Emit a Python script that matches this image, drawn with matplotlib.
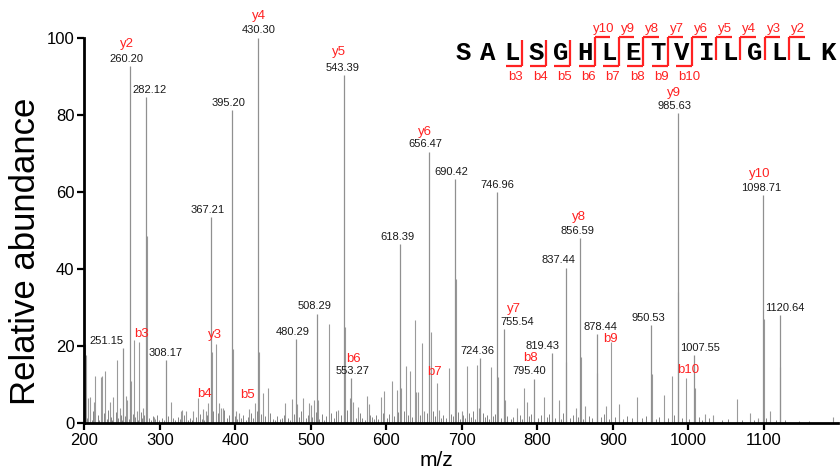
import matplotlib
matplotlib.use("Agg")
import matplotlib.pyplot as plt

plt.rcParams['font.family'] = ['Liberation Sans', 'DejaVu Sans']

# peaks with an m/z value printed above them
labeled_mz = [251.15, 260.20, 282.12, 308.17, 367.21, 395.20, 430.30, 480.29, 508.29,
              543.39, 553.27, 618.39, 656.47, 690.42, 724.36, 746.96, 755.54, 795.40,
              819.43, 837.44, 856.59, 878.44, 950.53, 985.63, 1007.55, 1098.71, 1120.64]
labeled_int = [19.4, 92.6, 84.6, 16.4, 53.5, 81.2, 100.0, 21.8, 28.4,
               90.2, 11.6, 46.5, 70.4, 63.3, 16.8, 59.9, 24.3, 11.5,
               18.2, 40.3, 47.9, 23.1, 25.3, 80.3, 17.7, 59.1, 27.9]

# other visible peaks (no m/z text)
other_mz = [200.6, 201.6, 205.0, 207.5, 213.0, 214.6, 221.7, 224.0, 227.4, 233.5, 238.5,
            243.0, 247.3, 254.8, 257.0, 262.0, 265.2, 269.4, 272.8, 278.0, 283.6, 292.7,
            314.4, 327.7, 329.8, 335.0, 344.4, 350.2, 357.0, 360.8, 364.3, 368.6, 374.0,
            378.8, 381.4, 383.0, 396.6, 400.6, 404.6, 418.6, 425.9, 431.4, 436.3, 443.7,
            466.0, 475.5, 482.0, 490.0, 498.0, 500.5, 504.6, 509.6, 524.5, 536.5, 544.8,
            551.2, 556.0, 562.0, 574.0, 576.7, 592.6, 596.5, 607.0, 613.8, 620.0, 625.7,
            631.4, 637.4, 638.6, 642.4, 647.5, 650.0, 658.6, 666.8, 670.0, 682.4, 691.6,
            700.0, 706.5, 719.8, 722.0, 738.3, 748.2, 757.0, 772.7, 782.8, 786.0, 809.0,
            828.0, 838.4, 851.0, 857.6, 863.6, 879.2, 890.6, 897.2, 908.6, 932.5, 951.6,
            967.8, 978.0, 986.6, 996.5, 1008.6, 1022.0, 1033.0, 1064.0, 1081.0, 1092.7,
            1099.8, 1108.0, 1121.6, 1192.0]
other_int = [20.4, 17.6, 6.6, 6.8, 5.4, 12.2, 12.0, 12.2, 13.6, 5.5, 6.8,
             16.4, 4.0, 7.0, 5.9, 11.0, 21.5, 3.0, 21.1, 4.0, 48.6, 1.5,
             5.4, 3.0, 3.5, 3.2, 3.0, 6.5, 3.6, 3.0, 5.3, 18.5, 20.6,
             5.2, 4.0, 4.0, 19.2, 3.2, 2.6, 3.6, 5.2, 18.4, 7.7, 9.1,
             5.3, 6.1, 5.0, 6.6, 5.1, 4.7, 5.9, 6.0, 25.7, 3.5, 25.0,
             6.4, 5.5, 4.2, 7.1, 5.0, 6.8, 8.2, 10.8, 8.5, 9.0, 14.8,
             13.5, 26.6, 8.0, 8.0, 20.7, 3.0, 23.7, 10.3, 3.5, 14.3, 37.4,
             3.2, 14.7, 15.1, 4.0, 14.6, 12.0, 6.0, 4.0, 9.0, 5.5, 6.8,
             5.9, 15.7, 4.0, 17.2, 4.5, 13.0, 4.5, 21.1, 5.0, 6.8, 12.8,
             7.3, 12.2, 34.0, 11.8, 9.0, 2.3, 2.0, 6.2, 2.5, 1.3,
             27.0, 3.0, 14.6, 1.5]

# low-level background peaks
noise_peaks = [
    (203.1, 1.2), (204.6, 2.3), (209.8, 0.8), (211.3, 3.1), (212.5, 1.4), (217.9, 2.0),
    (219.4, 0.9), (223.1, 1.7), (225.6, 2.6), (230.2, 1.1), (231.8, 3.4), (235.4, 1.5),
    (236.9, 0.7), (241.5, 2.8), (245.2, 1.3), (248.7, 2.1), (250.1, 0.9), (253.6, 1.8),
    (256.2, 3.2), (258.9, 1.0), (264.1, 2.4), (267.3, 1.6), (270.5, 0.8), (274.6, 2.9),
    (276.8, 1.2), (279.2, 2.2), (286.1, 1.4), (288.4, 0.9), (290.9, 1.7), (294.2, 1.1),
    (296.7, 2.0), (299.5, 0.8), (302.3, 1.3), (305.1, 0.7), (311.2, 1.9), (317.6, 1.2),
    (320.4, 0.8), (323.8, 1.5), (326.3, 1.0), (332.5, 2.1), (336.9, 0.9), (339.4, 1.4),
    (342.1, 0.7), (347.6, 1.6), (352.8, 2.4), (355.3, 1.1), (358.4, 0.8), (362.2, 2.2),
    (369.9, 3.0), (376.4, 2.7), (385.2, 3.3), (388.7, 1.2), (391.3, 2.0), (398.9, 1.7),
    (402.7, 1.0), (407.5, 1.4), (410.2, 2.1), (413.8, 0.9), (416.4, 1.5), (421.3, 2.6),
    (423.7, 1.2), (428.1, 3.0), (434.2, 2.3), (439.9, 1.8), (446.5, 2.6), (449.3, 1.1),
    (452.1, 0.8), (455.8, 1.9), (458.6, 1.0), (461.4, 1.4), (464.2, 2.2), (469.5, 1.3),
    (472.3, 0.9), (478.1, 2.4), (484.6, 1.5), (487.2, 3.1), (493.5, 1.2), (495.9, 2.0),
    (501.3, 1.6), (506.7, 2.8), (511.4, 1.1), (514.2, 2.3), (517.8, 0.9), (520.6, 1.8),
    (527.3, 2.5), (530.1, 1.3), (533.4, 3.0), (539.8, 2.1), (548.2, 3.3), (556.4, 2.0),
    (559.7, 1.2), (565.3, 2.6), (568.1, 1.4), (571.4, 0.9), (577.9, 2.2), (580.6, 1.5),
    (583.2, 1.0), (586.8, 2.0), (589.5, 1.1), (595.1, 2.7), (600.3, 1.3), (603.8, 2.4),
    (610.2, 1.7), (615.7, 2.9), (623.1, 3.1), (628.4, 2.2), (634.3, 1.6), (639.8, 3.4),
    (645.1, 2.0), (650.2, 1.3), (653.6, 2.5), (661.3, 3.0), (664.2, 1.8), (669.7, 2.6),
    (672.8, 1.2), (675.4, 2.1), (678.9, 1.4), (685.3, 2.3), (688.1, 1.7), (694.7, 2.8),
    (697.2, 1.0), (701.8, 2.0), (703.9, 1.3), (709.6, 2.5), (712.4, 1.6), (715.3, 3.2),
    (717.1, 1.1), (727.8, 2.7), (730.5, 1.5), (733.2, 2.2), (735.6, 1.0), (741.4, 1.8),
    (744.2, 2.4), (751.3, 1.2), (760.2, 1.9), (764.8, 1.1), (768.3, 1.6), (776.5, 2.2),
    (779.1, 1.0), (789.4, 1.7), (792.1, 2.4), (800.6, 1.3), (804.3, 2.0), (812.7, 1.5),
    (815.2, 2.3), (823.6, 1.4), (831.4, 1.1), (834.2, 2.6), (842.5, 1.2), (847.3, 2.0),
    (853.8, 1.6), (860.1, 1.0), (868.4, 1.8), (872.6, 1.2), (884.1, 1.5), (887.9, 2.4),
    (894.3, 1.0), (902.5, 1.6), (912.8, 1.1), (918.4, 1.9), (925.6, 1.3), (938.7, 1.2),
    (944.1, 1.8), (957.2, 1.0), (961.5, 1.5), (972.3, 1.3), (981.4, 2.0), (990.8, 1.4),
    (1001.2, 1.1), (1013.6, 1.6), (1018.4, 0.9), (1027.5, 1.2), (1044.3, 0.8),
    (1052.8, 1.0), (1070.6, 0.7), (1086.2, 0.9), (1102.9, 1.3), (1115.3, 0.8),
    (1128.4, 0.7), (1145.7, 0.6), (1160.2, 0.6),
]
noise_mz = [p[0] for p in noise_peaks]
noise_int = [p[1] for p in noise_peaks]

# fragment ion assignments
ion_names = ['y2', 'b3', 'b4', 'y3', 'b5', 'y4', 'y5', 'b6', 'y6', 'b7',
             'y7', 'b8', 'y8', 'b9', 'y9', 'b10', 'y10']
ion_mz = [260.20, 272.8, 350.2, 374.0, 425.9, 430.30, 543.39, 553.27, 656.47, 666.8,
          755.54, 795.40, 856.59, 897.2, 985.63, 996.5, 1098.71]

peptide = "SALSGHLETVILGLLK"
b_ions = [3, 4, 5, 6, 7, 8, 9, 10]
y_ions = [2, 3, 4, 5, 6, 7, 8, 9, 10]

# label nudges in pixels (dx for text, dy above the peak top)
num_dx = {251.15: -16, 260.20: -3, 282.12: 3, 308.17: 0, 367.21: -2.5, 395.20: -3,
          430.30: 0, 480.29: -3, 508.29: -3, 543.39: -1.5, 553.27: 1, 618.39: -2.5,
          656.47: -4, 690.42: -3.5, 724.36: -3, 746.96: 0, 755.54: 13, 795.40: -5,
          819.43: -10, 837.44: -7.5, 856.59: -2.7, 878.44: 3.5, 950.53: -3,
          985.63: -3, 1007.55: 6, 1098.71: -2, 1120.64: 5.5}
ion_off = {'y2': (-3, 21.7), 'b3': (2.5, 7.7), 'b4': (6.3, 4), 'y3': (-0.7, 8.3),
           'b5': (-7, 7.6), 'y4': (0.5, 21.7), 'y5': (-4.6, 23.3), 'b6': (2, 19),
           'y6': (-4, 19.7), 'b7': (-2.7, 11), 'y7': (10, 20), 'b8': (-3, 20.3),
           'y8': (-0.7, 21), 'b9': (0, 2.7), 'y9': (-3.2, 20.6), 'b10': (2.3, 8),
           'y10': (-2.8, 21)}

RED = '#ff2222'

fig = plt.figure(figsize=(8.4, 4.74), dpi=100)
ax = fig.add_axes([84.3 / 840, 51 / 474, (838 - 84.3) / 840, (423 - 37.5) / 474])

ax.vlines(noise_mz, 0, noise_int, color='#707070', lw=0.6)
ax.vlines(other_mz, 0, other_int, color='#9a9a9a', lw=0.8)
ax.vlines(labeled_mz, 0, labeled_int, color='#909090', lw=0.9)

ax.set_xlim(200, 1198)
ax.set_ylim(0, 100)
ax.set_xticks(range(200, 1101, 100))
ax.set_yticks(range(0, 101, 20))
ax.tick_params(direction='out', length=5, width=1.6, labelsize=12, pad=2)
for side in ['top', 'right']:
    ax.spines[side].set_visible(False)
for side in ['left', 'bottom']:
    ax.spines[side].set_linewidth(2.0)

ax.set_ylabel('Relative abundance', fontsize=25)
ax.yaxis.set_label_coords(-0.056, 0.446)
ax.set_xlabel('m/z', fontsize=15)
ax.xaxis.set_label_coords(0.4666, -0.072)

all_mz = labeled_mz + other_mz
all_int = labeled_int + other_int


def height_at(mz):
    i = min(range(len(all_mz)), key=lambda k: abs(all_mz[k] - mz))
    return all_int[i]


for mz, h in zip(labeled_mz, labeled_int):
    ax.annotate(f"{mz:.2f}", (mz, h), xytext=(num_dx.get(mz, 0), 7.2),
                textcoords='offset pixels', ha='center', va='center',
                fontsize=8, color='#1a1a1a', annotation_clip=False)

for name, mz in zip(ion_names, ion_mz):
    dx, dy = ion_off[name]
    ax.annotate(name, (mz, height_at(mz)), xytext=(dx, dy),
                textcoords='offset pixels', ha='center', va='center',
                fontsize=9.5, color=RED, annotation_clip=False)

# peptide sequence with fragment brackets, drawn in pixel space
ov = fig.add_axes([0, 0, 1, 1])
ov.set_xlim(0, 840)
ov.set_ylim(474, 0)
ov.axis('off')
ov.patch.set_alpha(0)

pitch = 24.3
first_line = 521.7 - 2 * pitch   # cleavage after residue 1
for i, aa in enumerate(peptide):
    cx = first_line + i * pitch - 9.8
    ov.text(cx, 60, aa, ha='center', va='baseline', fontsize=18.5,
            fontweight='bold', family='Liberation Mono', color='black')

n = len(peptide)
for k in range(1, n):
    lx = first_line + (k - 1) * pitch
    has_b = k in b_ions
    has_y = (n - k) in y_ions
    if not (has_b or has_y):
        continue
    top = 36.5 if has_y else 39.5
    bot = 66 if has_b else 59.5
    ov.plot([lx, lx], [top, bot], color=RED, lw=1.6, solid_capstyle='butt')
    if has_b:
        ov.plot([lx - 16, lx], [bot, bot], color=RED, lw=1.6, solid_capstyle='butt')
        ov.text(lx - 13.3, 76.5, f"b{k}", ha='left', va='center', fontsize=9.5, color=RED)
    if has_y:
        ov.plot([lx, lx + 15.5], [top, top], color=RED, lw=1.6, solid_capstyle='butt')
        ov.text(lx + 9, 28.5, f"y{n - k}", ha='center', va='center', fontsize=9.5, color=RED)

fig.savefig('out.png', dpi=100)
